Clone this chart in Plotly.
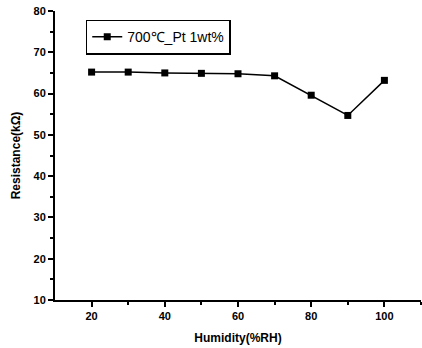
import plotly.graph_objects as go

humidity = [20, 30, 40, 50, 60, 70, 80, 90, 100]
resistance = [65.2, 65.2, 65.0, 64.9, 64.8, 64.3, 59.6, 54.7, 63.2]
series_name = "700℃_Pt 1wt%"

fig = go.Figure()
fig.add_trace(go.Scatter(
    x=humidity, y=resistance, mode="lines+markers", name=series_name,
    line=dict(color="black", width=1.5),
    marker=dict(symbol="square", size=7, color="black"),
))

axis_font = dict(family="Liberation Sans, Arial", size=11, color="black", weight="bold")
title_font = dict(family="Liberation Sans, Arial", size=12, color="black", weight="bold")
fig.update_layout(
    width=422, height=348,
    margin=dict(l=55, r=1, t=11, b=48),
    paper_bgcolor="white", plot_bgcolor="white",
    showlegend=True,
    legend=dict(x=0.084, y=0.97, xanchor="left", yanchor="top",
                bordercolor="black", borderwidth=1.5, bgcolor="white",
                font=dict(family="Liberation Sans, Arial", size=14, color="black"),
                itemwidth=30, tracegroupgap=0),
    xaxis=dict(range=[10, 110], tickvals=[20, 40, 60, 80, 100],
               showline=True, linecolor="black", linewidth=2,
               ticks="outside", ticklen=5, tickwidth=1.5, tickcolor="black",
               minor=dict(tickvals=[30, 50, 70, 90, 110], ticks="outside", ticklen=3, tickcolor="black"),
               showgrid=False, zeroline=False, tickfont=axis_font,
               title=dict(text="Humidity(%RH)", font=title_font, standoff=12)),
    yaxis=dict(range=[10, 80], tickvals=[10, 20, 30, 40, 50, 60, 70, 80],
               showline=True, linecolor="black", linewidth=2,
               ticks="outside", ticklen=5, tickwidth=1.5, tickcolor="black",
               minor=dict(tickvals=[15, 25, 35, 45, 55, 65, 75], ticks="outside", ticklen=3, tickcolor="black"),
               showgrid=False, zeroline=False, tickfont=axis_font,
               title=dict(text="Resistance(kΩ)", font=title_font, standoff=10)),
)

fig.write_html("out.html")
